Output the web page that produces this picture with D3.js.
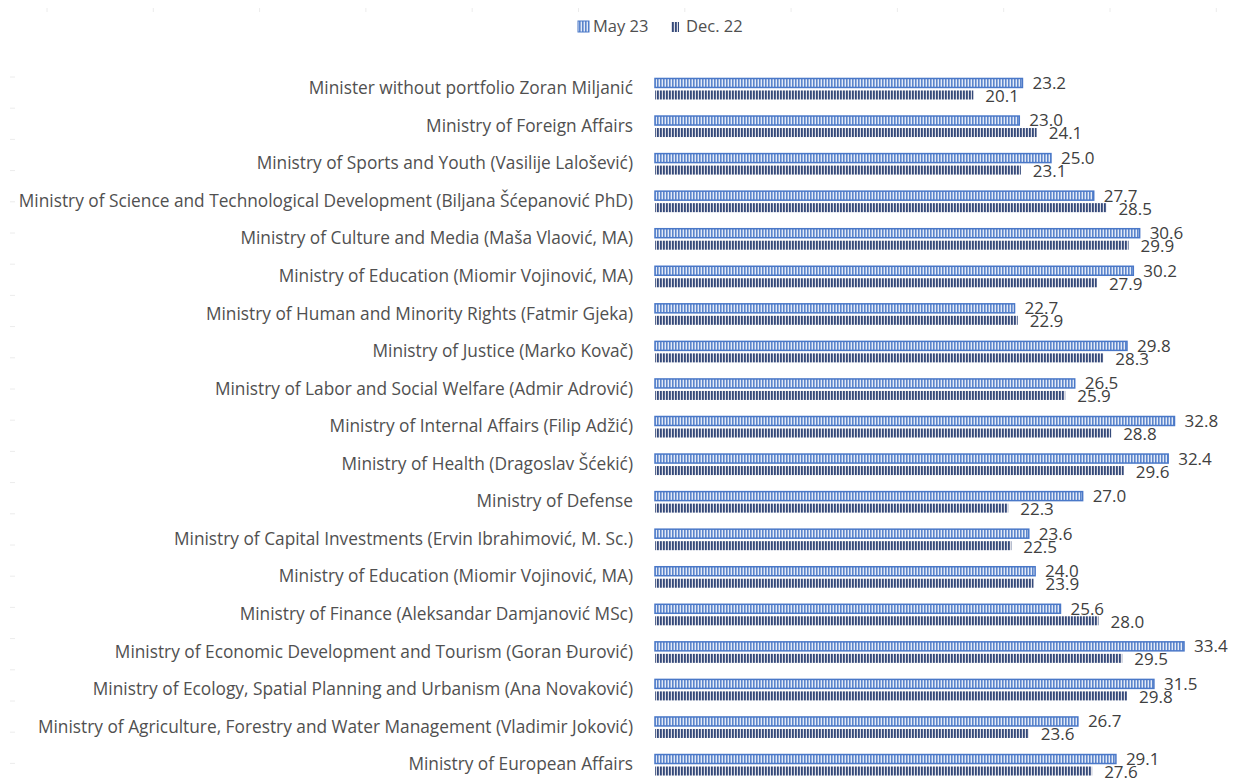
<!DOCTYPE html>
<html lang="en">
<head>
<meta charset="UTF-8">
<title>Ministries rating</title>
<script src="https://d3js.org/d3.v7.min.js"></script>
<style>
    body { margin: 0; background: #fff; }
    text { font-family: "Open Sans", "Noto Sans", sans-serif; }
    .cat { fill: #505050; font-size: 17.3px; }
    .val { fill: #404040; font-size: 17px; }
    .leg { fill: #505050; font-size: 16.5px; }
</style>
</head>
<body>
<div id="chart"></div>
<script>
    var w = 1234;
    var h = 780;

    var categories = [
        "Minister without portfolio Zoran Miljanić",
        "Ministry of Foreign Affairs",
        "Ministry of Sports and Youth (Vasilije Lalošević)",
        "Ministry of Science and Technological Development (Biljana Šćepanović PhD)",
        "Ministry of Culture and Media (Maša Vlaović, MA)",
        "Ministry of Education (Miomir Vojinović, MA)",
        "Ministry of Human and Minority Rights (Fatmir Gjeka)",
        "Ministry of Justice (Marko Kovač)",
        "Ministry of Labor and Social Welfare (Admir Adrović)",
        "Ministry of Internal Affairs (Filip Adžić)",
        "Ministry of Health (Dragoslav Šćekić)",
        "Ministry of Defense",
        "Ministry of Capital Investments (Ervin Ibrahimović, M. Sc.)",
        "Ministry of Education  (Miomir Vojinović, MA)",
        "Ministry of Finance (Aleksandar Damjanović MSc)",
        "Ministry of Economic Development and Tourism (Goran Đurović)",
        "Ministry of Ecology, Spatial Planning and Urbanism (Ana Novaković)",
        "Ministry of Agriculture, Forestry and Water Management (Vladimir Joković)",
        "Ministry of European Affairs"
    ];
    var may23 = [23.2, 23.0, 25.0, 27.7, 30.6, 30.2, 22.7, 29.8, 26.5, 32.8, 32.4, 27.0, 23.6, 24.0, 25.6, 33.4, 31.5, 26.7, 29.1];
    var dec22 = [20.1, 24.1, 23.1, 28.5, 29.9, 27.9, 22.9, 28.3, 25.9, 28.8, 29.6, 22.3, 22.5, 23.9, 28.0, 29.5, 29.8, 23.6, 27.6];
    var seriesNames = ["May 23", "Dec. 22"];

    var rows = categories.map(function(c, i) {
        return { cat: c, values: [may23[i], dec22[i]] };
    });

    var svg = d3.select("#chart").append("svg")
        .attr("width", w).attr("height", h);

    // stripe patterns
    var defs = svg.append("defs");
    var p1 = defs.append("pattern").attr("id", "pMay")
        .attr("patternUnits", "userSpaceOnUse").attr("width", 3).attr("height", 10);
    p1.append("rect").attr("width", 3).attr("height", 10).attr("fill", "#e4ebf7");
    p1.append("rect").attr("width", 1.6).attr("height", 10).attr("fill", "#5b85cc");
    var p2 = defs.append("pattern").attr("id", "pDec")
        .attr("patternUnits", "userSpaceOnUse").attr("width", 3).attr("height", 10);
    p2.append("rect").attr("width", 3).attr("height", 10).attr("fill", "#dfdfe6");
    p2.append("rect").attr("width", 1.8).attr("height", 10).attr("fill", "#34497a");

    var x = d3.scaleLinear().domain([0, 33.4]).range([655, 1184]);
    var y = d3.scaleBand().domain(categories).range([70.2, 783.8]);
    var y1 = d3.scaleBand().domain(seriesNames).range([-10.5, 10.5]).paddingInner(0.25);

    // faint leftover tick marks of the sheet
    var topTicks = d3.range(12);
    var leftTicks = d3.range(23);
    svg.append("g").selectAll("line").data(topTicks).enter().append("line")
        .attr("x1", function(d) { return 47 + d * 106.3; })
        .attr("x2", function(d) { return 47 + d * 106.3; })
        .attr("y1", 8).attr("y2", 12)
        .attr("stroke", "#ececec");
    svg.append("g").selectAll("line").data(leftTicks).enter().append("line")
        .attr("x1", 10).attr("x2", 15)
        .attr("y1", function(d) { return 77 + d * 31.2; })
        .attr("y2", function(d) { return 77 + d * 31.2; })
        .attr("stroke", "#ececec");

    var yAxis = d3.axisLeft(y).tickSize(0).tickPadding(0);
    var ga = svg.append("g")
        .attr("transform", "translate(633,0)")
        .call(yAxis);
    ga.select(".domain").remove();
    ga.selectAll("text").attr("class", "cat").attr("fill", null)
        .attr("font-size", null).attr("font-family", null).attr("dy", "0.3em");

    var groups = svg.append("g").selectAll("g").data(rows).enter().append("g")
        .attr("transform", function(d) { return "translate(0," + (y(d.cat) + y.bandwidth() / 2) + ")"; });

    groups.selectAll("rect").data(function(d) {
        return d.values.map(function(v, i) { return { s: seriesNames[i], v: v }; });
    }).enter().append("rect")
        .attr("x", x(0))
        .attr("y", function(d) { return y1(d.s); })
        .attr("width", function(d) { return x(d.v) - x(0); })
        .attr("height", y1.bandwidth())
        .attr("fill", function(d) { return d.s === "May 23" ? "url(#pMay)" : "url(#pDec)"; })
        .attr("stroke", function(d) { return d.s === "May 23" ? "#4a78c8" : "none"; })
        .attr("stroke-width", 1.5);

    groups.selectAll("text").data(function(d) {
        return d.values.map(function(v, i) { return { s: seriesNames[i], v: v }; });
    }).enter().append("text")
        .attr("class", "val")
        .attr("x", function(d) { return x(d.v) + (d.s === "May 23" ? 10 : 12); })
        .attr("y", function(d) { return y1(d.s) + y1.bandwidth() / 2 + (d.s === "May 23" ? 0 : 1); })
        .attr("dy", "0.35em")
        .text(function(d) { return d.v.toFixed(1); });

    // legend
    var legend = svg.append("g");
    legend.append("rect").attr("x", 578).attr("y", 21).attr("width", 11).attr("height", 11)
        .attr("fill", "url(#pMay)").attr("stroke", "#4a78c8").attr("stroke-width", 1);
    legend.append("text").attr("class", "leg").attr("x", 593).attr("y", 26).attr("dy", "0.35em").text(seriesNames[0]);
    legend.append("rect").attr("x", 671).attr("y", 22).attr("width", 8).attr("height", 10)
        .attr("fill", "url(#pDec)");
    legend.append("text").attr("class", "leg").attr("x", 686).attr("y", 26).attr("dy", "0.35em").text(seriesNames[1]);
</script>
</body>
</html>
